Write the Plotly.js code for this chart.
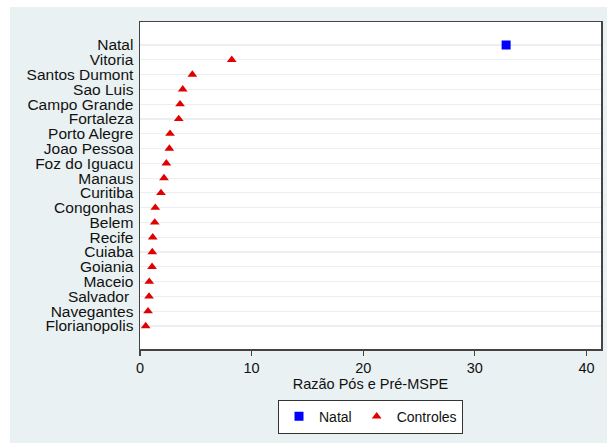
<!DOCTYPE html>
<html>
<head>
<meta charset="utf-8">
<script src="https://cdn.plot.ly/plotly-3.0.1.min.js"></script>
<style>
  html, body { margin: 0; padding: 0; background: #ffffff; }
  #chart { position: absolute; left: 10px; top: 7px; width: 597px; height: 436px; }
</style>
</head>
<body>
<div id="chart"></div>
<script>
// Airports, top to bottom
const cities = ["Natal", "Vitoria", "Santos Dumont", "Sao Luis", "Campo Grande", "Fortaleza",
  "Porto Alegre", "Joao Pessoa", "Foz do Iguacu", "Manaus", "Curitiba", "Congonhas",
  "Belem", "Recife", "Cuiaba", "Goiania", "Maceio", "Salvador ", "Navegantes", "Florianopolis"];

// Treated unit
const treatedCity = ["Natal"];
const treatedRatio = [32.8];

// Control units (post/pre MSPE ratio)
const controlCities = cities.slice(1);
const controlRatio = [8.22, 4.69, 3.83, 3.59, 3.47, 2.69, 2.63, 2.36, 2.15, 1.88,
  1.37, 1.32, 1.14, 1.10, 1.08, 0.83, 0.81, 0.72, 0.51];

const xTicks = [0, 10, 20, 30, 40];

const font = "Liberation Sans, Arial, Helvetica, sans-serif";

const traces = [
  {
    type: "scatter", mode: "markers", name: "Natal",
    x: treatedRatio, y: treatedCity,
    marker: { symbol: "square", color: "#0000ff", size: 9 }
  },
  {
    type: "scatter", mode: "markers", name: "Controles",
    x: controlRatio, y: controlCities,
    marker: { symbol: "triangle-up", color: "#e00000", size: 8.5 }
  }
];

const n = cities.length;
const layout = {
  width: 597, height: 436,
  paper_bgcolor: "#eaf1f3",
  plot_bgcolor: "#ffffff",
  margin: { l: 130, r: 6, t: 15, b: 94 },
  font: { family: font, color: "#111111", size: 14 },
  showlegend: true,
  legend: {
    orientation: "h", x: 0.5, xanchor: "center", y: -0.155, yanchor: "top",
    bgcolor: "#ffffff", bordercolor: "#333333", borderwidth: 1,
    font: { family: font, size: 14, color: "#111111" },
    itemwidth: 30, tracegroupgap: 0
  },
  xaxis: {
    range: [0, 41.3],
    tickvals: xTicks, ticktext: xTicks.map(String),
    ticks: "outside", ticklen: 5, tickcolor: "#444444", tickwidth: 1.2,
    showgrid: false, zeroline: false,
    showline: true, linecolor: "#444444", linewidth: 1.5, mirror: true,
    tickfont: { family: font, size: 14.5 },
    title: { text: "Razão Pós e Pré-MSPE", font: { family: font, size: 14.5 }, standoff: 4 }
  },
  yaxis: {
    type: "category",
    categoryorder: "array", categoryarray: cities,
    tickmode: "array", tickvals: cities, ticktext: cities,
    range: [n - 1 + 1.555, -1.555],
    ticks: "", showgrid: true, gridcolor: "#eaf0f2", gridwidth: 1.2,
    zeroline: false,
    showline: true, linecolor: "#444444", linewidth: 1.5, mirror: true,
    tickfont: { family: font, size: 15.5 },
    ticklabelstandoff: 2
  }
};

Plotly.newPlot("chart", traces, layout, { displayModeBar: false, staticPlot: true });
</script>
</body>
</html>
